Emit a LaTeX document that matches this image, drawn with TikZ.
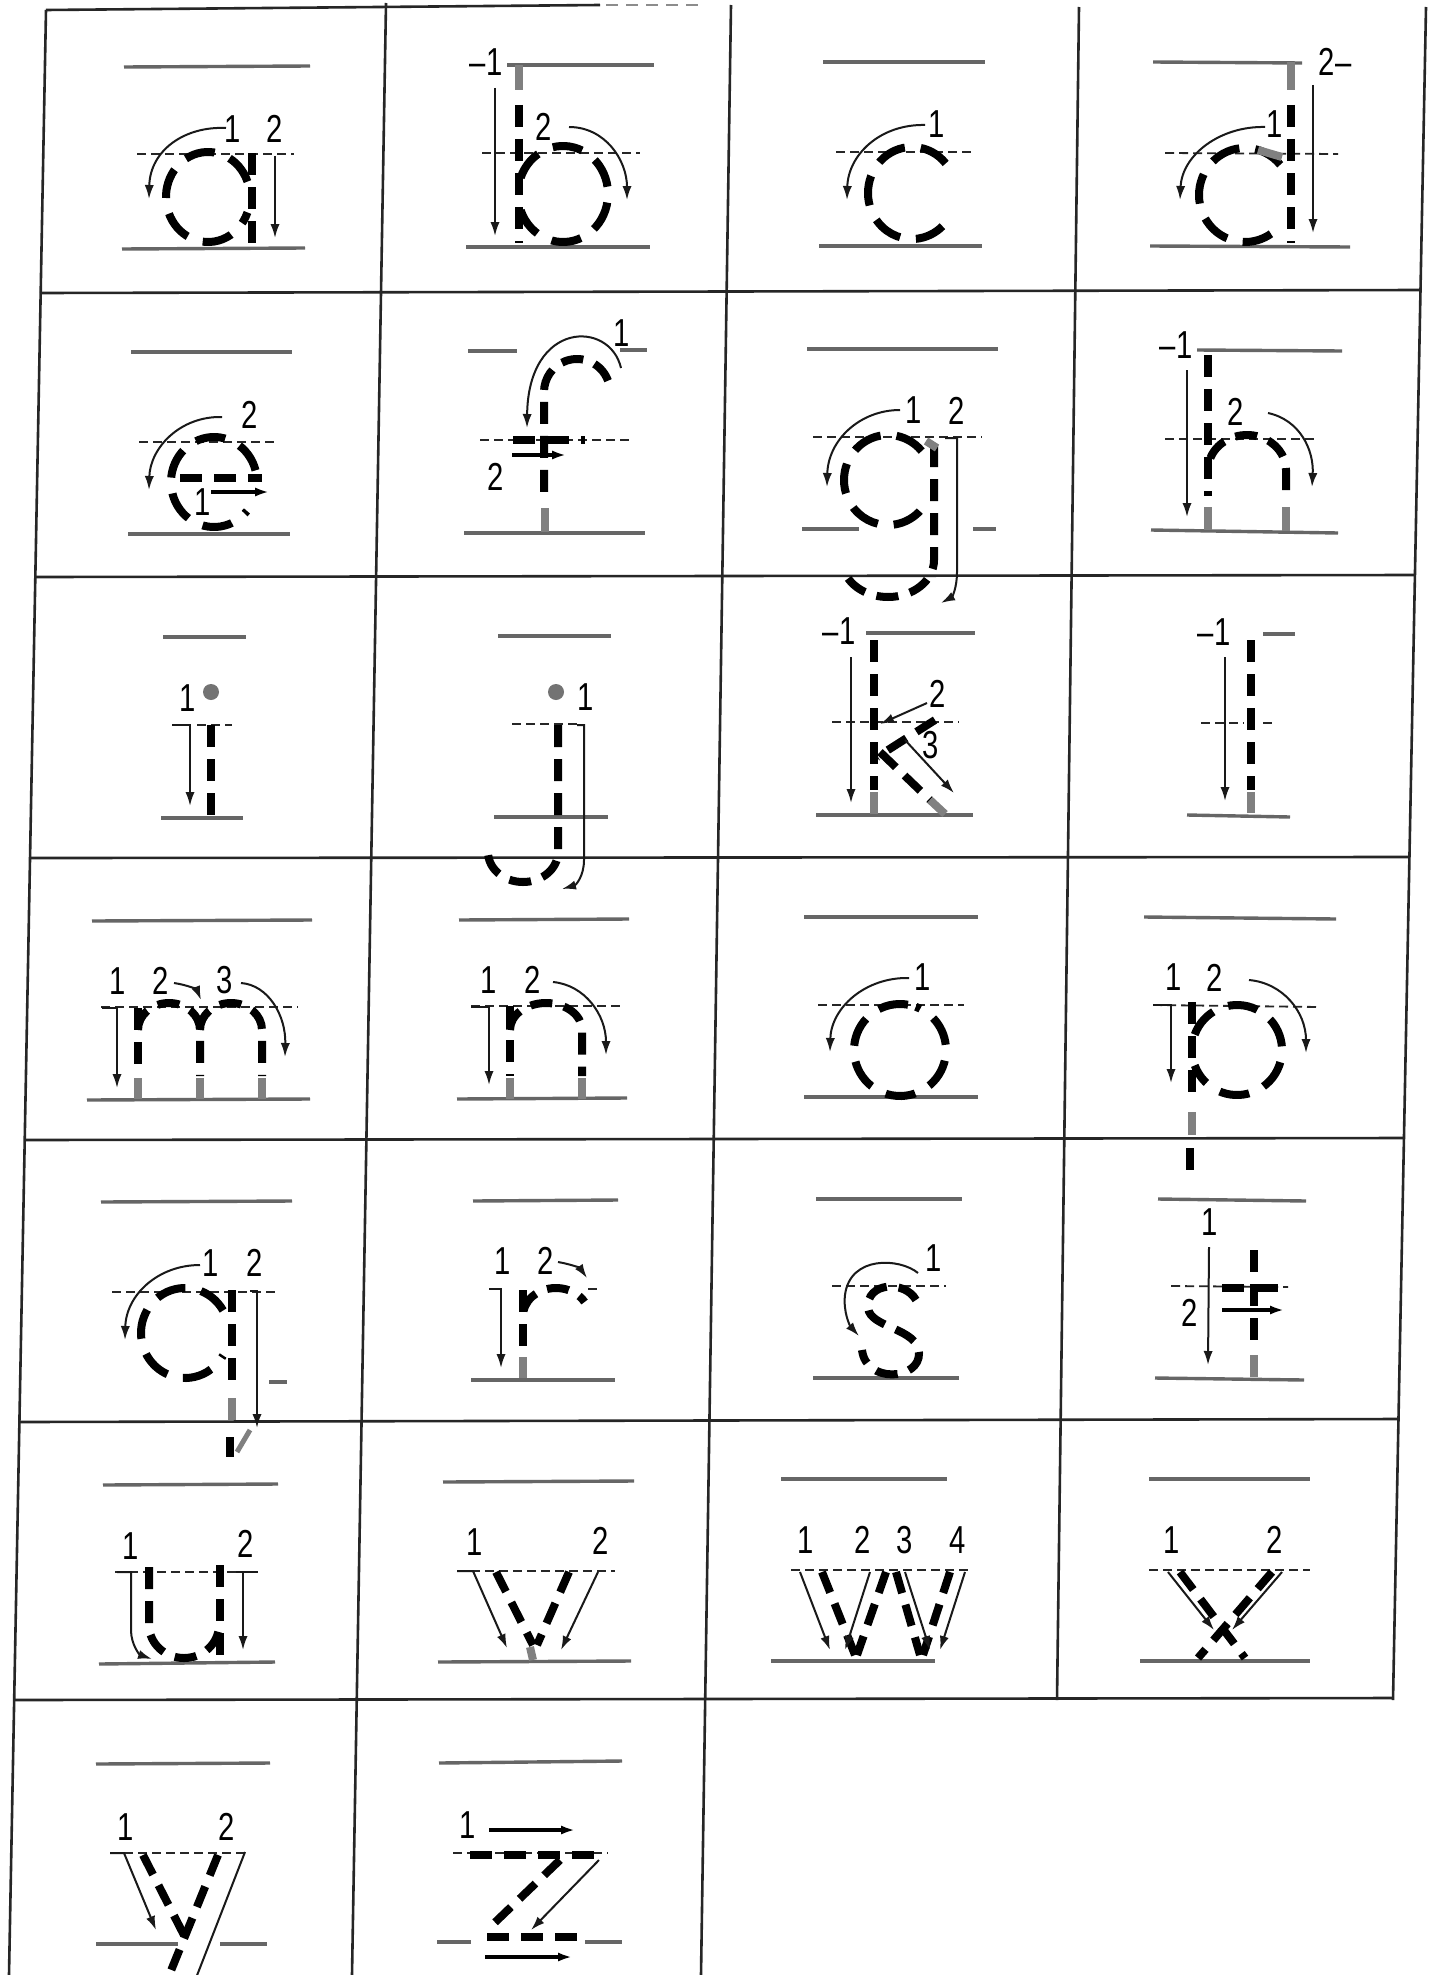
\documentclass[tikz,border=0pt]{standalone}
\usepackage{fontspec}
\newfontfamily\digitfont[FakeStretch=0.75]{Liberation Sans}
\usetikzlibrary{arrows.meta}
\definecolor{gridcol}{gray}{0.15}
\definecolor{guidecol}{gray}{0.4}
\definecolor{jointcol}{gray}{0.5}

\begin{document}
\begin{tikzpicture}[x=0.5pt, y=-0.5pt, >={Latex[length=7pt,width=4.6pt]}]
\tikzstyle{cellline} = [draw=gridcol, line width=1.3pt]
\tikzstyle{guide} = [draw=guidecol, line width=1.7pt]
\tikzstyle{midline} = [draw=black!85, line width=0.9pt, dash pattern=on 4.5pt off 2.5pt]
\tikzstyle{letterdash} = [draw=black, line width=4pt, dash pattern=on 11pt off 6pt]
\tikzstyle{bowl} = [draw=black, line width=4pt, dash pattern=on 15pt off 8pt]
\tikzstyle{joint} = [draw=jointcol, line width=4pt]
\tikzstyle{arrow} = [->, draw=black!90, line width=1pt]
\tikzstyle{bigarrow} = [->, draw=black, line width=1.9pt]
\tikzstyle{digit} = [font=\digitfont\fontsize{19.5pt}{19.5pt}\selectfont, inner sep=0pt]

\useasboundingbox (0,0) rectangle (1435,1975);
\fill[white] (0,0) rectangle (1435,1975);

\draw[cellline] (46,10) -- (600,5);
\draw[cellline, draw=black!45, dash pattern=on 6pt off 4pt] (606,5) -- (700,5);
\draw[cellline] (46,10) -- (9,1975);
\draw[cellline] (386,3) -- (352,1975);
\draw[cellline] (731,5) -- (701,1975);
\draw[cellline] (1079,7) -- (1057,1700);
\draw[cellline] (1426,7) -- (1393,1700);
\draw[cellline] (40,293) -- (1420,290);
\draw[cellline] (35,577) -- (1415,575);
\draw[cellline] (30,858) -- (1409,857);
\draw[cellline] (25,1140) -- (1404,1138);
\draw[cellline] (19,1422) -- (1398,1419);
\draw[cellline] (14,1700) -- (1393,1698);

\draw[guide] (124,67) -- (310,66);
\draw[guide] (122,249) -- (305,248);
\draw[midline] (137,154) -- (294,154);
\draw[bowl] (208,197) ++(-20:42 and 45) arc[start angle=-20, end angle=-340, x radius=42, y radius=45];
\draw[letterdash] (252,153) -- (252,245);
\node[digit] (a1) at (233,129) {1};
\node[digit] (a2) at (275,129) {2};
\draw[arrow] (226,128) .. controls (185,126) and (150,150) .. (149,199);
\draw[arrow] (275,156) -- (275,238);

\draw[guide] (507,65) -- (654,65);
\draw[guide] (466,247) -- (650,247);
\draw[midline] (482,153) -- (640,153);
\node[digit] (b1) at (486,62) {–1};
\draw[joint] (519,65) -- (519,90);
\draw[letterdash] (519,105) -- (519,243);
\draw[bowl] (563,194) ++(-160:45 and 48) arc[start angle=-160, end angle=160, x radius=45, y radius=48];
\node[digit] (b2) at (544,127) {2};
\draw[arrow] (495,88) -- (495,236);
\draw[arrow] (569,127) .. controls (605,127) and (627,160) .. (627,200);

\draw[guide] (823,62) -- (985,62);
\draw[guide] (819,246) -- (982,246);
\draw[midline] (836,152) -- (973,152);
\draw[bowl] (912,193) ++(-40:44 and 46) arc[start angle=-40, end angle=-320, x radius=44, y radius=46];
\node[digit] (c1) at (937,124) {1};
\draw[arrow] (925,125) .. controls (880,124) and (848,155) .. (847,200);

\draw[guide] (1153,62) -- (1302,63);
\draw[guide] (1150,246) -- (1350,247);
\draw[midline] (1165,153) -- (1338,154);
\node[digit] (d2) at (1335,62) {2–};
\draw[joint] (1291,62) -- (1291,90);
\draw[letterdash] (1291,105) -- (1291,243);
\draw[bowl] (1245,195) ++(-40:46 and 47) arc[start angle=-40, end angle=-320, x radius=46, y radius=47];
\draw[joint] (1258,150) -- (1282,157);
\node[digit] (d1) at (1275,124) {1};
\draw[arrow] (1265,127) .. controls (1220,126) and (1182,155) .. (1180,200);
\draw[arrow] (1313,85) -- (1313,233);

\draw[guide] (131,352) -- (292,352);
\draw[guide] (128,534) -- (290,534);
\draw[midline] (139,442) -- (278,442);
\draw[letterdash] (180,478) -- (262,478);
\draw[bowl] (214,482) ++(-15:43 and 45) arc[start angle=-15, end angle=-320, x radius=43, y radius=45];
\node[digit] (e2) at (250,415) {2};
\node[digit] (e1) at (203,502) {1};
\draw[arrow] (222,417) .. controls (180,416) and (150,448) .. (149,490);
\draw[bigarrow] (211,492) -- (269,492);

\draw[guide] (468,351) -- (517,351);
\draw[guide] (620,350) -- (647,350);
\draw[guide] (464,533) -- (645,533);
\draw[midline] (480,440) -- (629,440);
\draw[letterdash] (577,392) ++(340:33) arc[start angle=340, end angle=180, radius=33] -- (544,500);
\draw[joint] (545,508) -- (545,532);
\draw[letterdash] (513,440) -- (585,440);
\node[digit] (f1) at (622,333) {1};
\node[digit] (f2) at (496,477) {2};
\draw[arrow] (621,368) .. controls (610,320) and (528,320) .. (527,428);
\draw[bigarrow] (512,455) -- (566,455);

\draw[guide] (807,349) -- (998,349);
\draw[guide] (802,529) -- (859,529);
\draw[guide] (973,529) -- (996,529);
\draw[midline] (813,437) -- (982,437);
\draw[bowl] (888,480) ++(-40:44 and 45) arc[start angle=-40, end angle=-320, x radius=44, y radius=45];
\draw[letterdash] (934,445) -- (934,560) arc[start angle=0, end angle=160, x radius=46, y radius=37];
\draw[joint] (926,441) -- (937,448);
\node[digit] (g1) at (914,410) {1};
\node[digit] (g2) at (957,411) {2};
\draw[arrow] (900,410) .. controls (860,410) and (828,440) .. (827,487);
\draw[arrow] (945,438) -- (957,438) -- (957,572) .. controls (957,588) and (952,597) .. (941,603);

\draw[guide] (1197,350) -- (1342,351);
\draw[guide] (1151,530) -- (1338,533);
\draw[midline] (1165,439) -- (1317,439);
\node[digit] (h1) at (1176,345) {–1};
\draw[letterdash] (1208,355) -- (1208,496);
\draw[joint] (1208,507) -- (1208,530);
\draw[letterdash] (1247,470) ++(-160:39 and 35) arc[start angle=-160, end angle=0, x radius=39, y radius=35] -- (1286,496);
\draw[joint] (1286,507) -- (1286,531);
\node[digit] (h2) at (1236,412) {2};
\draw[arrow] (1187,370) -- (1187,517);
\draw[arrow] (1268,413) .. controls (1300,420) and (1314,450) .. (1312,487);

\draw[guide] (163,637) -- (246,637);
\draw[guide] (161,818) -- (243,818);
\draw[midline] (197,725) -- (232,725);
\fill[black!55] (211,692) circle[radius=8];
\node[digit] (i1) at (188,698) {1};
\draw[letterdash] (211,725) -- (211,818);
\draw[arrow] (172,725) -- (190,725) -- (190,806);

\draw[guide] (498,636) -- (611,636);
\draw[guide] (494,817) -- (608,817);
\draw[midline] (512,724) -- (579,724);
\fill[black!55] (556,692) circle[radius=8];
\node[digit] (j1) at (586,697) {1};
\draw[letterdash] (558,725) -- (558,852) arc[start angle=0, end angle=180, x radius=35, y radius=30];
\draw[arrow] (577,725) -- (584,725) -- (584,860) .. controls (584,876) and (576,885) .. (562,889);

\draw[guide] (866,633) -- (975,633);
\draw[guide] (816,815) -- (973,815);
\draw[midline] (832,722) -- (959,722);
\node[digit] (k1) at (839,631) {–1};
\draw[letterdash] (874,640) -- (874,790);
\draw[joint] (874,792) -- (874,814);
\draw[letterdash] (935,720) -- (877,757);
\draw[letterdash] (880,752) -- (930,800);
\draw[joint] (930,800) -- (945,814);
\node[digit] (k2) at (938,694) {2};
\node[digit] (k3) at (931,745) {3};
\draw[arrow] (851,657) -- (851,803);
\draw[arrow] (927,703) -- (880,724);
\draw[arrow] (905,740) -- (954,793);

\draw[guide] (1263,634) -- (1295,634);
\draw[guide] (1187,815) -- (1290,817);
\draw[midline] (1201,723) -- (1244,723);
\draw[midline] (1263,723) -- (1276,723);
\node[digit] (l1) at (1214,632) {–1};
\draw[letterdash] (1251,640) -- (1251,790);
\draw[joint] (1251,792) -- (1251,813);
\draw[arrow] (1225,657) -- (1225,801);

\draw[guide] (92,921) -- (312,920);
\draw[guide] (87,1100) -- (310,1099);
\draw[midline] (101,1007) -- (298,1007);
\draw[letterdash] (138,1008) -- (138,1076);
\draw[letterdash] (138,1030) arc[start angle=180, end angle=360, x radius=31, y radius=27] -- (200,1076);
\draw[letterdash] (200,1030) arc[start angle=180, end angle=360, x radius=31, y radius=27] -- (262,1076);
\draw[joint] (138,1078) -- (138,1099);
\draw[joint] (200,1078) -- (200,1099);
\draw[joint] (262,1078) -- (262,1099);
\node[digit] (m1) at (118,981) {1};
\node[digit] (m2) at (161,981) {2};
\node[digit] (m3) at (225,980) {3};
\draw[arrow] (102,1008) -- (117,1008) -- (117,1088);
\draw[arrow] (174,983) .. controls (188,985) and (197,990) .. (201,1000);
\draw[arrow] (241,983) .. controls (268,985) and (286,1015) .. (285,1057);

\draw[guide] (459,920) -- (629,919);
\draw[guide] (457,1099) -- (627,1098);
\draw[midline] (471,1006) -- (622,1006);
\draw[letterdash] (510,1006) -- (510,1076);
\draw[letterdash] (510,1030) arc[start angle=180, end angle=360, x radius=36, y radius=27] -- (582,1076);
\draw[joint] (510,1078) -- (510,1099);
\draw[joint] (582,1078) -- (582,1099);
\node[digit] (n1) at (489,980) {1};
\node[digit] (n2) at (533,980) {2};
\draw[arrow] (471,1007) -- (489,1007) -- (489,1085);
\draw[arrow] (553,982) .. controls (585,985) and (606,1015) .. (606,1055);

\draw[guide] (804,917) -- (978,917);
\draw[guide] (804,1097) -- (978,1097);
\draw[midline] (818,1005) -- (964,1005);
\draw[bowl] (900,1050) ++(-80:46) arc[start angle=-80, end angle=-430, radius=46];
\node[digit] (o1) at (923,977) {1};
\draw[arrow] (909,978) .. controls (865,977) and (831,1008) .. (830,1052);

\draw[guide] (1144,917) -- (1336,919);
\draw[midline] (1153,1005) -- (1320,1007);
\draw[letterdash] (1192,1002) -- (1192,1100);
\draw[joint] (1192,1112) -- (1192,1135);
\draw[draw=black, line width=4pt] (1190,1148) -- (1190,1170);
\draw[bowl] (1237,1050) ++(-160:45) arc[start angle=-160, end angle=160, radius=45];
\node[digit] (p1) at (1174,977) {1};
\node[digit] (p2) at (1215,978) {2};
\draw[arrow] (1153,1005) -- (1171,1005) -- (1171,1083);
\draw[arrow] (1249,980) .. controls (1283,983) and (1306,1012) .. (1306,1053);

\draw[guide] (101,1202) -- (292,1201);
\draw[guide] (269,1382) -- (287,1382);
\draw[midline] (112,1292) -- (275,1292);
\draw[bowl] (185,1333) ++(-30:44 and 45) arc[start angle=-30, end angle=-330, x radius=44, y radius=45];
\draw[letterdash] (232,1290) -- (232,1384);
\draw[joint] (232,1398) -- (232,1420);
\draw[draw=black, line width=4pt] (230,1437) -- (230,1457);
\draw[joint, line width=2.5pt] (250,1430) -- (237,1452);
\node[digit] (q1) at (211,1263) {1};
\node[digit] (q2) at (255,1263) {2};
\draw[arrow] (200,1265) .. controls (158,1265) and (126,1295) .. (125,1340);
\draw[arrow] (250,1291) -- (257,1291) -- (257,1428);

\draw[guide] (473,1201) -- (618,1200);
\draw[guide] (471,1380) -- (615,1380);
\draw[midline] (588,1289) -- (597,1289);
\draw[letterdash] (523,1290) -- (523,1355);
\draw[joint] (523,1357) -- (523,1378);
\draw[letterdash] (556,1316) ++(-170:33 and 28) arc[start angle=-170, end angle=-30, x radius=33, y radius=28];
\node[digit] (r1) at (503,1261) {1};
\node[digit] (r2) at (546,1261) {2};
\draw[arrow] (489,1289) -- (501,1289) -- (501,1368);
\draw[arrow] (558,1262) .. controls (570,1264) and (580,1268) .. (587,1278);

\draw[guide] (816,1199) -- (962,1199);
\draw[guide] (813,1378) -- (959,1378);
\draw[midline] (832,1286) -- (946,1286);
\draw[letterdash] (916,1300) .. controls (905,1280) and (866,1282) .. (868,1308) .. controls (870,1328) and (918,1328) .. (919,1353) .. controls (920,1380) and (866,1384) .. (862,1350);
\node[digit] (s1) at (934,1258) {1};
\draw[arrow] (918,1273) .. controls (900,1258) and (850,1255) .. (845,1295) .. controls (843,1312) and (850,1326) .. (859,1336);

\draw[guide] (1158,1199) -- (1306,1201);
\draw[guide] (1155,1378) -- (1304,1380);
\draw[midline] (1171,1286) -- (1288,1287);
\draw[letterdash] (1254,1250) -- (1254,1352);
\draw[joint] (1254,1355) -- (1254,1377);
\draw[letterdash] (1222,1288) -- (1288,1288);
\node[digit] (t1) at (1210,1222) {1};
\node[digit] (t2) at (1190,1313) {2};
\draw[arrow] (1209,1247) -- (1208,1365);
\draw[bigarrow] (1222,1310) -- (1284,1310);

\draw[guide] (103,1485) -- (278,1484);
\draw[guide] (99,1664) -- (275,1662);
\draw[midline] (115,1572) -- (257,1572);
\draw[letterdash] (149,1567) -- (149,1625) arc[start angle=180, end angle=0, x radius=35, y radius=33];
\draw[letterdash] (220,1565) -- (220,1660);
\node[digit] (u1) at (131,1546) {1};
\node[digit] (u2) at (246,1544) {2};
\draw[arrow] (117,1572) -- (131,1572) -- (131,1630) .. controls (131,1645) and (140,1655) .. (152,1659);
\draw[draw=black!90, line width=1pt] (236,1572) -- (258,1572);
\draw[arrow] (243,1572) -- (243,1650);

\draw[guide] (443,1482) -- (634,1481);
\draw[guide] (438,1662) -- (631,1661);
\draw[midline] (457,1571) -- (615,1571);
\draw[letterdash] (496,1572) -- (533,1645);
\draw[letterdash] (569,1572) -- (537,1645);
\draw[joint] (530,1647) -- (533,1660);
\node[digit] (v1) at (475,1542) {1};
\node[digit] (v2) at (601,1541) {2};
\draw[arrow] (457,1571) -- (473,1571) -- (507,1648);
\draw[arrow] (598,1572) -- (561,1650);

\draw[guide] (781,1479) -- (947,1479);
\draw[guide] (771,1661) -- (935,1661);
\draw[midline] (791,1570) -- (968,1570);
\draw[letterdash] (822,1572) -- (855,1655);
\draw[letterdash] (886,1572) -- (857,1655);
\draw[letterdash] (896,1572) -- (920,1655);
\draw[letterdash] (950,1572) -- (923,1655);
\node[digit] (w1) at (806,1540) {1};
\node[digit] (w2) at (863,1540) {2};
\node[digit] (w3) at (905,1540) {3};
\node[digit] (w4) at (958,1540) {4};
\draw[arrow] (800,1572) -- (830,1650);
\draw[arrow] (870,1572) -- (845,1650);
\draw[arrow] (905,1572) -- (930,1650);
\draw[arrow] (965,1572) -- (940,1650);

\draw[guide] (1149,1479) -- (1310,1479);
\draw[guide] (1140,1661) -- (1310,1661);
\draw[midline] (1149,1570) -- (1310,1570);
\draw[letterdash] (1180,1572) -- (1245,1658);
\draw[letterdash] (1272,1572) -- (1198,1658);
\node[digit] (x1) at (1172,1540) {1};
\node[digit] (x2) at (1275,1540) {2};
\draw[arrow] (1168,1572) -- (1214,1630);
\draw[arrow] (1282,1572) -- (1232,1630);

\draw[guide] (96,1764) -- (270,1763);
\draw[guide] (96,1944) -- (178,1944);
\draw[guide] (220,1944) -- (267,1944);
\draw[midline] (110,1853) -- (247,1853);
\draw[letterdash] (143,1855) -- (188,1943);
\draw[letterdash] (218,1855) -- (168,1978);
\node[digit] (y1) at (126,1827) {1};
\node[digit] (y2) at (227,1827) {2};
\draw[arrow] (110,1853) -- (124,1853) -- (156,1930);
\draw[draw=black!90, line width=1pt] (245,1852) -- (196,1978);

\draw[guide] (439,1763) -- (622,1761);
\draw[guide] (437,1942) -- (471,1942);
\draw[guide] (585,1942) -- (622,1942);
\draw[midline] (453,1853) -- (608,1853);
\draw[letterdash] (470,1855) -- (600,1855);
\draw[letterdash] (560,1860) -- (487,1930);
\draw[letterdash] (487,1937) -- (577,1937);
\node[digit] (z1) at (468,1825) {1};
\draw[bigarrow] (489,1830) -- (575,1830);
\draw[arrow] (599,1860) -- (531,1930);
\draw[bigarrow] (485,1957) -- (572,1957);
\end{tikzpicture}
\end{document}
